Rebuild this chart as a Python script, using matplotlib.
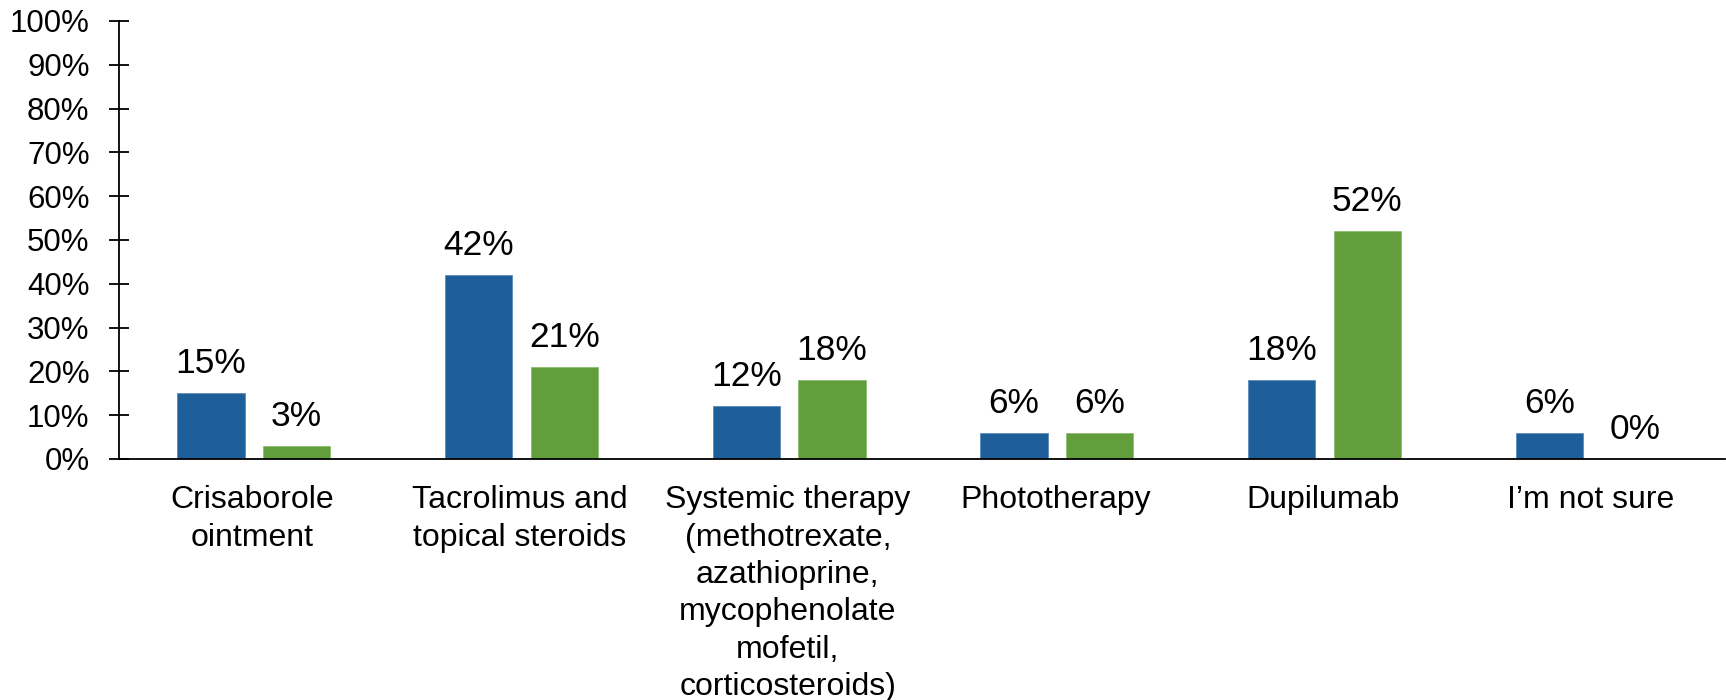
import matplotlib
matplotlib.use("Agg")
import matplotlib.pyplot as plt
import numpy as np

plt.rcParams['font.family'] = ['Liberation Sans', 'DejaVu Sans']

categories = [
    "Crisaborole\nointment",
    "Tacrolimus and\ntopical steroids",
    "Systemic therapy\n(methotrexate,\nazathioprine,\nmycophenolate\nmofetil,\ncorticosteroids)",
    "Phototherapy",
    "Dupilumab",
    "I\u2019m not sure",
]
series_blue = [15, 42, 12, 6, 18, 6]
series_green = [3, 21, 18, 6, 52, 0]
y_ticks = [0, 10, 20, 30, 40, 50, 60, 70, 80, 90, 100]
y_tick_labels = [f"{t}%" for t in y_ticks]

BLUE = "#1F5F99"
GREEN = "#629E3B"

fig = plt.figure(figsize=(17.26, 7.0), dpi=100)
ax = fig.add_axes([0.0687, 0.3443, 0.9305, 0.6257])

x = np.arange(len(categories))
width = 0.252
off_b, off_g = -0.155, 0.165

bars_b = ax.bar(x + off_b, series_blue, width, color=BLUE,
                edgecolor="#5B8CBE", linewidth=0.6, zorder=2)
bars_g = ax.bar(x + off_g, series_green, width, color=GREEN,
                edgecolor="#8DBB6E", linewidth=0.6, zorder=2)

for bars, vals in ((bars_b, series_blue), (bars_g, series_green)):
    for rect, v in zip(bars, vals):
        ax.annotate(f"{v}%", xy=(rect.get_x() + rect.get_width() / 2, v),
                    xytext=(0, 14.5), textcoords="offset points",
                    ha="center", va="baseline", fontsize=25.5, color="black")

ax.set_xlim(-0.5, len(categories) - 0.5)
ax.set_ylim(0, 100)
ax.set_yticks(y_ticks)
ax.set_yticklabels(y_tick_labels)
ax.set_xticks(x)
ax.set_xticklabels(categories, fontsize=23, linespacing=1.32, va="top")

ax.tick_params(axis="y", direction="inout", length=13.7, width=1.3,
               labelsize=22.5, pad=14)
ax.tick_params(axis="x", length=0, pad=19)

for side in ("top", "right"):
    ax.spines[side].set_visible(False)
for side in ("left", "bottom"):
    ax.spines[side].set_linewidth(1.3)
    ax.spines[side].set_color("black")

fig.savefig("out.png", dpi=100)
